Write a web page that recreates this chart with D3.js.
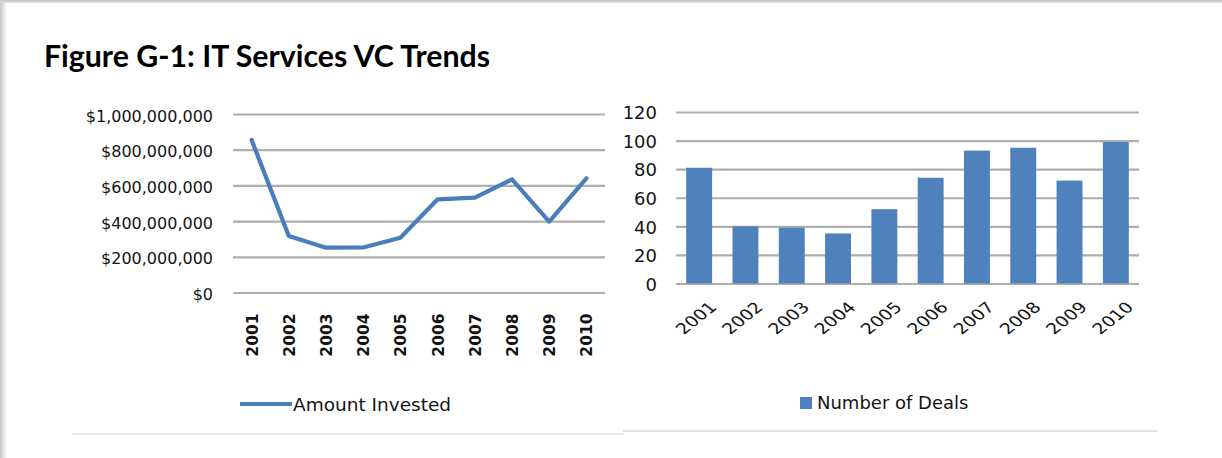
<!DOCTYPE html>
<html>
<head>
<meta charset="utf-8">
<script src="https://cdn.jsdelivr.net/npm/d3@7/dist/d3.min.js"></script>
<style>
  html, body { margin: 0; padding: 0; background: #fff; }
  svg { display: block; }
  .tick text { font-family: "DejaVu Sans", sans-serif; fill: #141414; }
</style>
</head>
<body>
<svg id="fig" width="1222" height="458"></svg>
<script>
// IT Services venture capital, 2001-2010
const years = ["2001", "2002", "2003", "2004", "2005", "2006", "2007", "2008", "2009", "2010"];
const amountInvested = [855e6, 317e6, 251e6, 252e6, 307e6, 522e6, 531e6, 634e6, 397e6, 640e6];
const numberOfDeals = [81, 40, 39, 35, 52, 74, 93, 95, 72, 99];
const amountTicks = [0, 2e8, 4e8, 6e8, 8e8, 1e9];
const dealTicks = [0, 20, 40, 60, 80, 100, 120];

const blue = "#4a7ebb";
const barBlue = "#4f81bd";
const gridGray = "#aeaeae";
const ink = "#141414";

const svg = d3.select("#fig");

// page frame: soft grey edge along the top and left
const defs = svg.append("defs");
const gTop = defs.append("linearGradient").attr("id", "edgeTop").attr("x1", 0).attr("y1", 0).attr("x2", 0).attr("y2", 1);
gTop.append("stop").attr("offset", 0).attr("stop-color", "#c2c2c2");
gTop.append("stop").attr("offset", 1).attr("stop-color", "#e4e4e4");
const gLeft = defs.append("linearGradient").attr("id", "edgeLeft").attr("x1", 0).attr("y1", 0).attr("x2", 1).attr("y2", 0);
gLeft.append("stop").attr("offset", 0).attr("stop-color", "#c6c6c6");
gLeft.append("stop").attr("offset", 1).attr("stop-color", "#ffffff");

svg.append("rect").attr("width", 1222).attr("height", 458).attr("fill", "#fff");
svg.append("rect").attr("x", 0).attr("y", 0).attr("width", 7).attr("height", 458).attr("fill", "url(#edgeLeft)");
svg.append("rect").attr("x", 0).attr("y", 0).attr("width", 1222).attr("height", 3).attr("fill", "url(#edgeTop)");

// title
svg.append("text")
  .attr("x", 44).attr("y", 67)
  .attr("font-family", "Lato, 'Open Sans', sans-serif")
  .attr("font-weight", "bold")
  .attr("font-size", 30)
  .attr("textLength", 446)
  .attr("lengthAdjust", "spacingAndGlyphs")
  .attr("fill", "#000")
  .text("Figure G-1: IT Services VC Trends");

// ---------- left panel: amount invested (line) ----------
const L = { x0: 233, x1: 605, y0: 292.5, y1: 114 };
const xL = d3.scalePoint().domain(years).range([L.x0, L.x1]).padding(0.5);
const yL = d3.scaleLinear().domain([0, 1e9]).range([L.y0, L.y1]);

const fmtDollar = d => "$" + d3.format(",")(d);

const leftY = svg.append("g")
  .attr("transform", `translate(${L.x0},0)`)
  .call(d3.axisLeft(yL).tickValues(amountTicks).tickFormat(fmtDollar)
    .tickSize(-(L.x1 - L.x0)).tickPadding(20));
leftY.select(".domain").remove();
leftY.selectAll(".tick line").attr("stroke", gridGray).attr("stroke-width", 2.2);
leftY.selectAll(".tick text").attr("font-size", 16).attr("transform", "translate(0,2)");

const leftX = svg.append("g")
  .attr("transform", `translate(0,${L.y0})`)
  .call(d3.axisBottom(xL).tickSize(0).tickPadding(0));
leftX.select(".domain").remove();
leftX.selectAll(".tick text")
  .attr("font-size", 15.5)
  .attr("font-weight", "bold")
  .attr("text-anchor", "end")
  .attr("transform", "translate(0,21) rotate(-90)")
  .attr("x", 0).attr("y", 0).attr("dy", "0.35em");

const line = d3.line()
  .x((d, i) => xL(years[i]))
  .y(d => yL(d));
svg.append("path")
  .datum(amountInvested)
  .attr("d", line)
  .attr("fill", "none")
  .attr("stroke", blue)
  .attr("stroke-width", 4.2)
  .attr("stroke-linejoin", "round")
  .attr("stroke-linecap", "round");

// legend (left)
svg.append("line")
  .attr("x1", 240).attr("x2", 292).attr("y1", 404).attr("y2", 404)
  .attr("stroke", blue).attr("stroke-width", 4);
svg.append("text")
  .attr("x", 293).attr("y", 405).attr("dy", "0.35em")
  .attr("font-family", "'DejaVu Sans', sans-serif")
  .attr("font-size", 18.5)
  .attr("fill", ink)
  .text("Amount Invested");

// ---------- right panel: number of deals (bars) ----------
const R = { x0: 676, x1: 1139, y0: 283.5, y1: 112 };
const xR = d3.scaleBand().domain(years).range([R.x0, R.x1]).paddingInner(0.44).paddingOuter(0.22);
const yR = d3.scaleLinear().domain([0, 120]).range([R.y0, R.y1]);

const rightY = svg.append("g")
  .attr("transform", `translate(${R.x0},0)`)
  .call(d3.axisLeft(yR).tickValues(dealTicks).tickFormat(d3.format("d"))
    .tickSize(-(R.x1 - R.x0)).tickPadding(19));
rightY.select(".domain").remove();
rightY.selectAll(".tick line").attr("stroke", gridGray).attr("stroke-width", 2.2);
rightY.selectAll(".tick text").attr("font-size", 18).attr("transform", "translate(0,1)");

svg.append("g")
  .selectAll("rect")
  .data(numberOfDeals)
  .join("rect")
  .attr("x", (d, i) => xR(years[i]))
  .attr("width", xR.bandwidth())
  .attr("y", d => yR(d))
  .attr("height", d => yR(0) - yR(d))
  .attr("fill", barBlue);

// slanted year labels, widened the way the panel is
const rightX = svg.append("g")
  .attr("transform", `translate(0,${R.y0})`)
  .call(d3.axisBottom(xR).tickSize(0).tickPadding(0));
rightX.select(".domain").remove();
rightX.selectAll(".tick text")
  .attr("font-size", 15)
  .attr("text-anchor", "end")
  .attr("transform", "translate(14,21) scale(1.27,1) rotate(-45)")
  .attr("x", 0).attr("y", 0).attr("dy", "0.35em");

// legend (right)
svg.append("rect")
  .attr("x", 800).attr("y", 397).attr("width", 12).attr("height", 12)
  .attr("fill", barBlue);
svg.append("text")
  .attr("x", 817).attr("y", 403).attr("dy", "0.35em")
  .attr("font-family", "'DejaVu Sans', sans-serif")
  .attr("font-size", 18)
  .attr("fill", ink)
  .text("Number of Deals");

// separator rules under each panel
svg.append("line").attr("x1", 72).attr("x2", 624).attr("y1", 434).attr("y2", 434)
  .attr("stroke", "#e4e4e4").attr("stroke-width", 2);
svg.append("line").attr("x1", 623).attr("x2", 1157).attr("y1", 431).attr("y2", 431)
  .attr("stroke", "#e4e4e4").attr("stroke-width", 2);
</script>
</body>
</html>
